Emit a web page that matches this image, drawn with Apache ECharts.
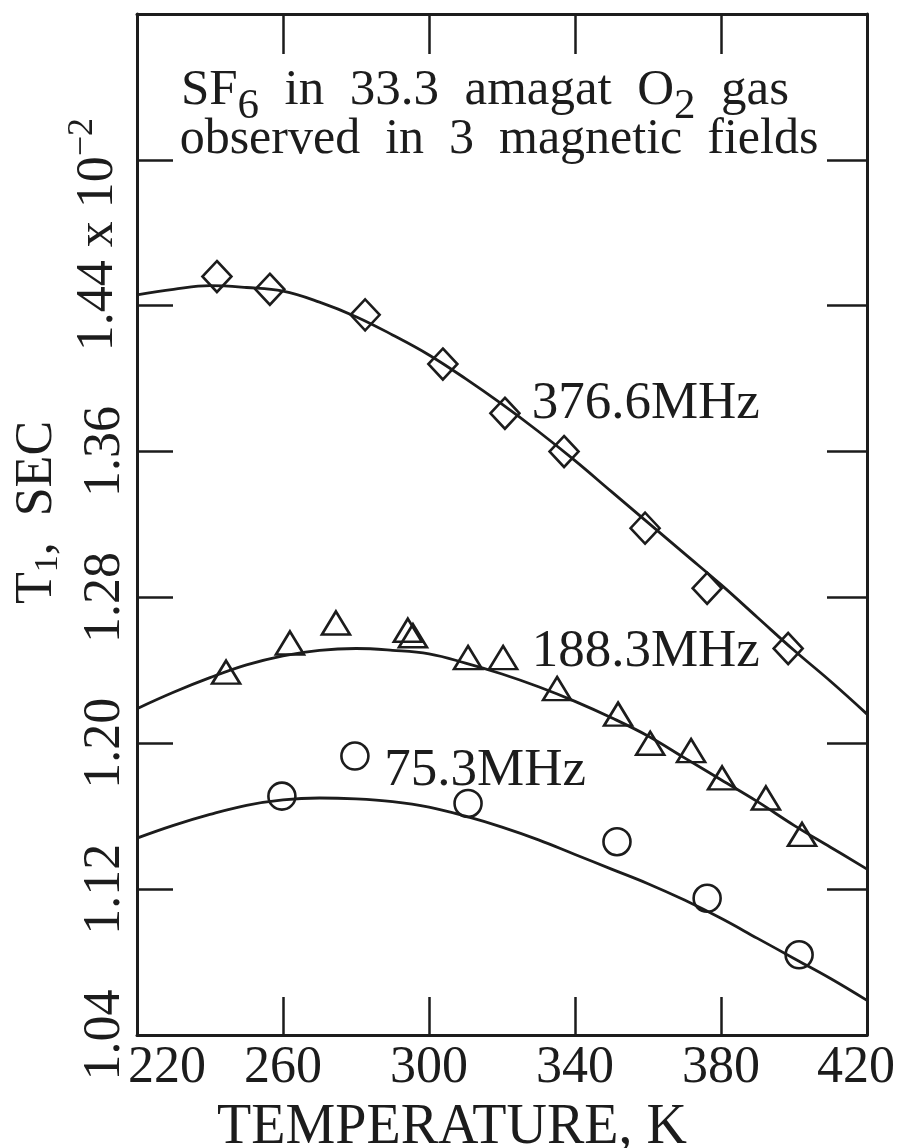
<!DOCTYPE html>
<html>
<head>
<meta charset="utf-8">
<script src="https://cdn.jsdelivr.net/npm/echarts@6/dist/echarts.min.js"></script>
<style>
  html, body { margin: 0; padding: 0; background: #ffffff; }
  #chart { width: 912px; height: 1148px; }
</style>
</head>
<body>
<div id="chart"></div>
<script>
// Fitted T1 curves, sampled every 10 K
const fitTemps = [220, 230, 240, 250, 260, 270, 280, 290, 300, 310, 320,
                  330, 340, 350, 360, 370, 380, 390, 400, 410, 420];
const fit376 = [1.446, 1.449, 1.451, 1.450, 1.448, 1.442, 1.434, 1.424, 1.413, 1.400, 1.386,
                1.371, 1.355, 1.338, 1.321, 1.304, 1.287, 1.269, 1.251, 1.234, 1.216];
const fit188 = [1.219, 1.228, 1.236, 1.243, 1.248, 1.251, 1.252, 1.251, 1.249, 1.244, 1.238,
                1.231, 1.223, 1.214, 1.204, 1.192, 1.180, 1.168, 1.155, 1.143, 1.131];
const fit75  = [1.148, 1.155, 1.161, 1.166, 1.169, 1.170, 1.1695, 1.168, 1.165, 1.160, 1.154,
                1.147, 1.139, 1.131, 1.123, 1.114, 1.104, 1.093, 1.082, 1.071, 1.059];

// Measured points: 376.6 MHz (diamonds)
const diamondT = [241.9, 256.4, 282.5, 303.8, 320.8, 337.0, 359.2, 376.2, 398.4];
const diamondV = [1.456, 1.449, 1.435, 1.408, 1.381, 1.360, 1.318, 1.285, 1.252];
// 188.3 MHz (triangles)
const triangleT = [244.4, 261.9, 274.5, 294.2, 295.6, 310.7, 320.3, 335.1, 351.8, 360.6, 371.8, 380.3, 392.3, 402.2];
const triangleV = [1.239, 1.255, 1.266, 1.262, 1.259, 1.247, 1.247, 1.230, 1.216, 1.200, 1.196, 1.181, 1.170, 1.150];
// 75.3 MHz (circles)
const circleT = [259.7, 279.7, 310.7, 351.5, 376.2, 401.4];
const circleV = [1.171, 1.193, 1.167, 1.146, 1.115, 1.084];

// Axes
const xTickLabels = [220, 260, 300, 340, 380, 420];
const xInnerTicks = [260, 300, 340, 380];
const yTickLabels = [1.04, 1.12, 1.20, 1.28, 1.36];
const yScaledLabel = [1.44];
const yInnerTicks = [1.12, 1.20, 1.28, 1.36, 1.44, 1.52];

// Frequency labels placed next to their curves
const freqNames = ['376.6MHz', '188.3MHz', '75.3MHz'];
const freqLabelT = [359.4, 359.4, 315.4];
const freqLabelV = [1.386, 1.250, 1.1846];

const INK = '#1c1c1c';
const SERIF = '"Liberation Serif", "DejaVu Serif", serif';

const pairs = (xs, ys) => xs.map((x, i) => [x, ys[i]]);

const frameAxis = {
  type: 'value',
  axisLine: { show: true, lineStyle: { color: INK, width: 3 } },
  splitLine: { show: false }
};
const tickStyle = { color: INK, width: 2.5 };
const txt = (size) => ({ fontFamily: SERIF, fontSize: size, fontWeight: 'normal', color: INK });

const chart = echarts.init(document.getElementById('chart'), null, { renderer: 'canvas' });

const option = {
  backgroundColor: '#ffffff',
  animation: false,
  title: [
    {
      text: '{n|SF}{sub|6}{n|  in  33.3  amagat  O}{sub|2}{n|  gas}',
      left: 480, top: 48, textAlign: 'center',
      textStyle: {
        fontWeight: 'normal',
        rich: {
          n: txt(51),
          sub: Object.assign(txt(43), { padding: [32, 0, 0, 0] })
        }
      }
    },
    {
      text: 'observed  in  3  magnetic  fields',
      left: 494, top: 110, textAlign: 'center',
      textStyle: txt(50)
    }
  ],
  grid: { left: 137, right: 45, top: 14, bottom: 113, outerBoundsMode: 'none', containLabel: false },
  xAxis: [
    Object.assign({}, frameAxis, {
      position: 'bottom', min: 220, max: 420,
      name: 'TEMPERATURE, K', nameLocation: 'middle', nameGap: 65,
      nameTextStyle: Object.assign(txt(56), { padding: [0, 100, 0, 0] }),
      axisTick: { show: true, inside: true, length: 38, customValues: xInnerTicks, lineStyle: tickStyle },
      axisLabel: {
        show: true, customValues: xTickLabels, margin: 7,
        formatter: v => {
          const s = String(Math.round(v));
          if (s === '220') return '{pad|}{n|' + s + '}';
          if (s === '420') return '{n|' + s + '}{padR|}';
          return '{n|' + s + '}';
        },
        rich: { n: txt(52), pad: { width: 60 }, padR: { width: 22 } }
      }
    }),
    Object.assign({}, frameAxis, {
      position: 'top', min: 220, max: 420,
      axisTick: { show: true, inside: true, length: 40, customValues: xInnerTicks, lineStyle: tickStyle },
      axisLabel: { show: false }
    })
  ],
  yAxis: [
    Object.assign({}, frameAxis, {
      position: 'left', min: 1.04, max: 1.60,
      name: '{n|T}{sub|1}{n|,  SEC}', nameLocation: 'middle', nameGap: 72,
      nameTextStyle: {
        padding: [0, 0, 0, 24],
        rich: { n: txt(52), sub: Object.assign(txt(34), { padding: [22, 0, 0, 0] }) }
      },
      axisTick: { show: true, inside: true, length: 36, customValues: yInnerTicks, lineStyle: tickStyle },
      axisLabel: Object.assign(txt(52), {
        show: true, rotate: 90, margin: 6, customValues: yTickLabels,
        formatter: v => v.toFixed(2)
      })
    }),
    Object.assign({}, frameAxis, {
      position: 'right', min: 1.04, max: 1.60,
      axisTick: { show: true, inside: true, length: 40, customValues: yInnerTicks, lineStyle: tickStyle },
      axisLabel: { show: false }
    }),
    {
      // scale factor label "1.44 x 10^-2" sharing the left edge
      type: 'value', position: 'left', min: 1.04, max: 1.60,
      axisLine: { show: false }, axisTick: { show: false }, splitLine: { show: false },
      axisLabel: {
        show: true, rotate: 90, margin: 6, customValues: yScaledLabel,
        formatter: v => '{pad|}{n|' + v.toFixed(2) + '}{n| x 10}{sup|−2}',
        rich: {
          pad: { width: 142 },
          n: txt(52),
          sup: Object.assign(txt(36), { padding: [0, 0, 30, 0] })
        }
      }
    }
  ],
  series: [
    { type: 'line', name: 'fit376', data: pairs(fitTemps, fit376), smooth: 0.4,
      symbol: 'none', lineStyle: { color: INK, width: 2.8 } },
    { type: 'line', name: 'fit188', data: pairs(fitTemps, fit188), smooth: 0.4,
      symbol: 'none', lineStyle: { color: INK, width: 2.8 } },
    { type: 'line', name: 'fit75', data: pairs(fitTemps, fit75), smooth: 0.4,
      symbol: 'none', lineStyle: { color: INK, width: 2.8 } },
    { type: 'scatter', name: '376.6MHz', data: pairs(diamondT, diamondV),
      symbol: 'diamond', symbolSize: [29, 31],
      itemStyle: { color: 'rgba(0,0,0,0)', borderColor: INK, borderWidth: 2.6, opacity: 1 } },
    { type: 'scatter', name: '188.3MHz', data: pairs(triangleT, triangleV),
      symbol: 'triangle', symbolSize: [28, 23],
      itemStyle: { color: 'rgba(0,0,0,0)', borderColor: INK, borderWidth: 2.6, opacity: 1 } },
    { type: 'scatter', name: '75.3MHz', data: pairs(circleT, circleV),
      symbol: 'circle', symbolSize: 27,
      itemStyle: { color: 'rgba(0,0,0,0)', borderColor: INK, borderWidth: 2.6, opacity: 1 } },
    { type: 'scatter', name: 'freqLabels', silent: true,
      data: freqNames.map((n, i) => [freqLabelT[i], freqLabelV[i], n]),
      symbolSize: 0, itemStyle: { opacity: 1 },
      label: Object.assign(txt(53), { show: true, position: 'inside', formatter: p => p.value[2] }) }
  ]
};

chart.setOption(option);
</script>
</body>
</html>
